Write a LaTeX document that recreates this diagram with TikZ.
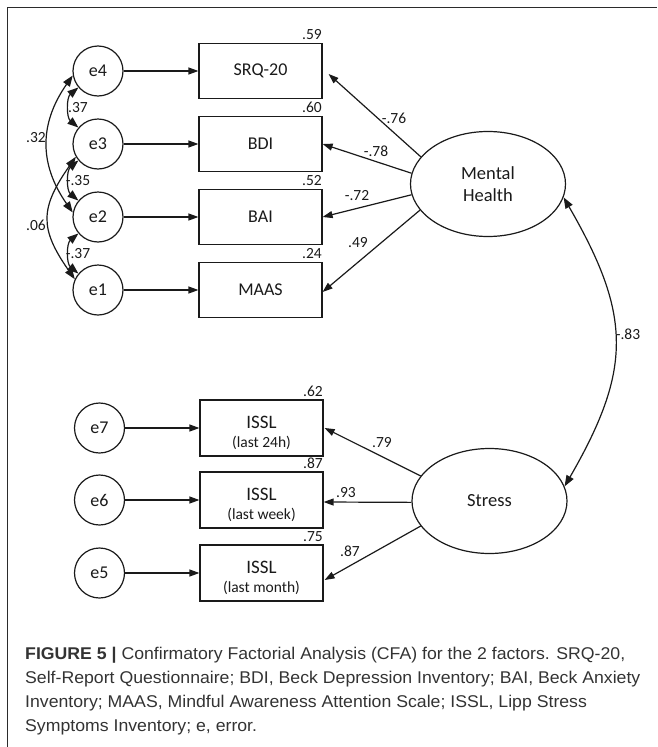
\documentclass[tikz,border=0pt]{standalone}
\usepackage{fontspec}
\setmainfont{Carlito}
\newfontfamily\capfont[FakeStretch=1.04]{Liberation Sans}
\usepackage{xcolor}
\usetikzlibrary{arrows.meta,calc,shapes.geometric}
\definecolor{ink}{HTML}{1A1A1A}
\definecolor{rule}{HTML}{2B2B2B}
\definecolor{captext}{HTML}{333333}
\tikzset{
  frame/.style={draw=rule, line width=1pt},
  err/.style={circle, draw=ink, line width=1.2pt, minimum size=50pt, inner sep=0pt, text=ink, font=\fontsize{18}{20}\selectfont},
  obs/.style={rectangle, draw=ink, line width=1.2pt, minimum width=123pt, minimum height=55pt, inner sep=0pt, text=ink, font=\fontsize{18}{20}\selectfont},
  issl/.style={obs, minimum height=56pt, align=center, font=\fontsize{19}{19.5}\selectfont},
  lat/.style={ellipse, draw=ink, line width=1.2pt, minimum width=155pt, minimum height=105pt, inner sep=0pt, align=center, text=ink, font=\fontsize{18.5}{22.5}\selectfont},
  load/.style={-{Triangle[length=10pt,width=7pt]}, draw=ink, line width=1.2pt},
  cov/.style={{Triangle[length=11pt,width=8pt]}-{Triangle[length=11pt,width=8pt]}, draw=ink, line width=1.2pt},
  coef/.style={text=ink, inner sep=0pt, font=\fontsize{15.5}{17}\selectfont},
  captxt/.style={text=captext, inner sep=0pt, align=left, font=\capfont\fontsize{17}{24}\selectfont}
}
\newcommand{\sub}[1]{{\fontsize{15.5}{17}\selectfont #1}}
\newcommand{\issltxt}[1]{\rule{0pt}{22pt}ISSL\\\sub{#1}}

\begin{document}
\begin{tikzpicture}[x=1pt,y=-1pt]
  \useasboundingbox (0,0) rectangle (657,747);
  \draw[frame] (7.5,747) -- (7.5,7) -- (657,7);

  % errors and indicators, Mental Health block
  \node[err] (e4) at (98,71) {e4};
  \node[err] (e3) at (98,144) {e3};
  \node[err] (e2) at (98,217) {e2};
  \node[err] (e1) at (98,290) {e1};
  \node[obs] (srq) at (260.5,71) {SRQ-20};
  \node[obs] (bdi) at (260.5,144) {BDI};
  \node[obs] (bai) at (260.5,217) {BAI};
  \node[obs] (maas) at (260.5,290) {MAAS};

  % errors and indicators, Stress block
  \node[err] (e7) at (99.5,428) {e7};
  \node[err] (e6) at (99.5,500) {e6};
  \node[err] (e5) at (99.5,573) {e5};
  \node[issl] (issld) at (261.5,428) {\issltxt{(last 24h)}};
  \node[issl] (isslw) at (261.5,500) {\issltxt{(last week)}};
  \node[issl] (isslm) at (261.5,573) {\issltxt{(last month)}};

  % factors
  \node[lat] (mh) at (488,184) {Mental\\Health};
  \node[lat] (st) at (489.5,501) {Stress};

  % error paths
  \foreach \e/\b in {e4/srq,e3/bdi,e2/bai,e1/maas,e7/issld,e6/isslw,e5/isslm}
    \draw[load] (\e) -- (\b);

  % loadings
  \draw[load] (mh.158) -- ([xshift=6pt,yshift=-3pt]srq.east);
  \draw[load] (mh.172) -- (bdi.east);
  \draw[load] (mh.188) -- (bai.east);
  \draw[load] (mh.201) -- ([yshift=-2pt]maas.east);
  \draw[load] (st.160) -- ([xshift=1pt]issld.east);
  \draw[load] (st.181) -- ([yshift=-2pt]isslw.east);
  \draw[load] (st.200) -- ([xshift=1pt,yshift=-7pt]isslm.east);

  % error covariances
  \draw[cov] (e4.220) to[out=220,in=140] (e3.140);
  \draw[cov] (e3.220) to[out=220,in=140] (e2.140);
  \draw[cov] (e2.220) to[out=220,in=140] (e1.140);
  \draw[cov] (e4.190) to[out=235,in=125,looseness=1.1] (e2.170);
  \draw[cov] (e3.210) to[out=235,in=125,looseness=1.3] (e1.155);

  % factor covariance
  \draw[cov] (mh.-10) to[out=-60,in=60,looseness=1.2] (st.11);

  % squared multiple correlations
  \node[coef, anchor=base east] (r2srq) at (322,39) {.59};
  \node[coef, anchor=base east] (r2bdi) at (322,112) {.60};
  \node[coef, anchor=base east] (r2bai) at (322,185) {.52};
  \node[coef, anchor=base east] (r2maas) at (322,258) {.24};
  \node[coef, anchor=base east] (r2d) at (323,396) {.62};
  \node[coef, anchor=base east] (r2w) at (323,468) {.87};
  \node[coef, anchor=base east] (r2m) at (323,541) {.75};

  % coefficients
  \node[coef] (lsrq) at (394,118) {-.76};
  \node[coef] (lbdi) at (376,151) {-.78};
  \node[coef] (lbai) at (357,196) {-.72};
  \node[coef] (lmaas) at (358,243) {.49};
  \node[coef] (ld) at (382,443) {.79};
  \node[coef] (lw) at (346,493) {.93};
  \node[coef] (lm) at (350,551) {.87};
  \node[coef] (c43) at (78,108) {.37};
  \node[coef] (c32) at (78,181) {-.35};
  \node[coef] (c21) at (78,254) {-.37};
  \node[coef] (c42) at (36,138) {.32};
  \node[coef] (c31) at (36,225) {.06};
  \node[coef] (cmhst) at (628,334) {-.83};

  % caption
  \node[captxt, anchor=north west] (caption) at (25,646.5) {\textbf{FIGURE 5 |} Confirmatory Factorial Analysis (CFA) for the 2 factors. SRQ-20,\\
    Self-Report Questionnaire; BDI, Beck Depression Inventory; BAI, Beck Anxiety\\
    Inventory; MAAS, Mindful Awareness Attention Scale; ISSL, Lipp Stress\\
    Symptoms Inventory; e, error.};
\end{tikzpicture}
\end{document}
